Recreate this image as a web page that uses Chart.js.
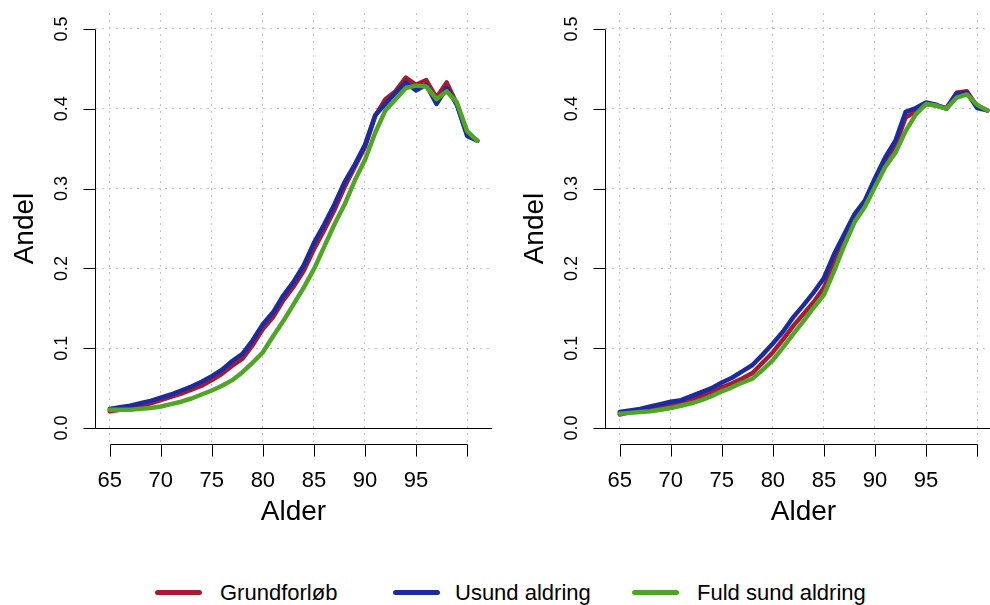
<!DOCTYPE html>
<html lang="da">
<head>
<meta charset="utf-8">
<title>Andel efter alder</title>
<script src="https://cdn.jsdelivr.net/npm/chart.js@4.4.1/dist/chart.umd.min.js"></script>
<style>
  html, body { margin: 0; padding: 0; background: #fff; overflow: hidden; }
  body { width: 990px; height: 605px; position: relative; font-family: "Liberation Sans", Arial, sans-serif; }
  canvas { position: absolute; top: 0; }
  #leftChart { left: 0; }
  #rightChart { left: 510px; }
  .swatch { position: absolute; top: 590px; width: 47px; height: 5px; border-radius: 2.5px; }
  .legend-text { position: absolute; top: 582px; font-size: 22px; line-height: 22px; color: #000; white-space: nowrap; }
</style>
</head>
<body>
<canvas id="leftChart" width="500" height="540"></canvas>
<canvas id="rightChart" width="500" height="540"></canvas>
<div id="legend"></div>

<script>
const AGES = [65, 66, 67, 68, 69, 70, 71, 72, 73, 74, 75, 76, 77, 78, 79, 80, 81, 82, 83,
              84, 85, 86, 87, 88, 89, 90, 91, 92, 93, 94, 95, 96, 97, 98, 99, 100, 101];

const X_TICKS = [65, 70, 75, 80, 85, 90, 95, 100];
const X_LABELS = [65, 70, 75, 80, 85, 90, 95];
const Y_TICKS = [0, 0.1, 0.2, 0.3, 0.4, 0.5];

const SERIES_NAMES = ['Grundforløb', 'Usund aldring', 'Fuld sund aldring'];
const SERIES_COLORS = ['#a61b2f', '#1c2ca0', '#4fa526'];

// left panel
const leftGrund = [0.021, 0.023, 0.025, 0.028, 0.031, 0.035, 0.039, 0.043, 0.048, 0.053, 0.060, 0.068, 0.078,
                   0.087, 0.104, 0.124, 0.139, 0.160, 0.177, 0.197, 0.224, 0.248, 0.273, 0.302, 0.327, 0.352,
                   0.391, 0.412, 0.422, 0.439, 0.430, 0.436, 0.414, 0.433, 0.406, 0.368, 0.360];
const leftUsund = [0.024, 0.026, 0.028, 0.031, 0.034, 0.038, 0.042, 0.047, 0.052, 0.058, 0.065, 0.073, 0.084,
                   0.093, 0.110, 0.130, 0.145, 0.166, 0.183, 0.204, 0.232, 0.255, 0.280, 0.308, 0.330, 0.355,
                   0.392, 0.406, 0.420, 0.433, 0.423, 0.430, 0.406, 0.426, 0.405, 0.366, 0.360];
const leftSund  = [0.023, 0.023, 0.023, 0.024, 0.025, 0.027, 0.030, 0.033, 0.037, 0.042, 0.047, 0.053, 0.060,
                   0.070, 0.082, 0.095, 0.115, 0.134, 0.155, 0.176, 0.199, 0.227, 0.255, 0.280, 0.310, 0.336,
                   0.370, 0.398, 0.412, 0.426, 0.429, 0.428, 0.412, 0.422, 0.408, 0.372, 0.360];

// right panel
const rightGrund = [0.017, 0.020, 0.022, 0.024, 0.026, 0.029, 0.032, 0.035, 0.040, 0.045, 0.051, 0.056, 0.062,
                    0.069, 0.082, 0.095, 0.111, 0.128, 0.143, 0.158, 0.176, 0.206, 0.234, 0.262, 0.279, 0.307,
                    0.333, 0.354, 0.389, 0.397, 0.406, 0.404, 0.401, 0.420, 0.422, 0.403, 0.398];
const rightUsund = [0.020, 0.022, 0.024, 0.027, 0.030, 0.033, 0.035, 0.040, 0.045, 0.050, 0.057, 0.063, 0.071,
                    0.079, 0.092, 0.106, 0.121, 0.139, 0.154, 0.170, 0.188, 0.218, 0.243, 0.268, 0.285, 0.313,
                    0.339, 0.360, 0.396, 0.401, 0.408, 0.405, 0.400, 0.419, 0.420, 0.401, 0.398];
const rightSund  = [0.018, 0.019, 0.020, 0.021, 0.023, 0.025, 0.028, 0.031, 0.035, 0.040, 0.046, 0.051, 0.057,
                    0.062, 0.073, 0.085, 0.101, 0.118, 0.134, 0.151, 0.167, 0.197, 0.229, 0.258, 0.277, 0.302,
                    0.327, 0.345, 0.372, 0.393, 0.406, 0.404, 0.400, 0.414, 0.418, 0.405, 0.398];

const FONT = '"Liberation Sans", Arial, sans-serif';

// R-style axes: detached x axis, rotated y labels, zero line
const baseAxes = {
    id: 'baseAxes',
    afterDraw(chart) {
        const { ctx, chartArea: area, scales: { x, y } } = chart;
        const left = Math.round(area.left) + 0.5;
        const bottom = Math.round(area.bottom) + 0.5;

        ctx.save();
        ctx.strokeStyle = '#000';
        ctx.fillStyle = '#000';
        ctx.lineWidth = 1;

        // zero line across the panel
        const y0 = Math.round(y.getPixelForValue(0)) + 0.5;
        ctx.beginPath();
        ctx.moveTo(area.left, y0);
        ctx.lineTo(area.right, y0);
        ctx.stroke();

        // y axis
        ctx.beginPath();
        ctx.moveTo(left, Math.round(y.getPixelForValue(Y_TICKS[0])) + 0.5);
        ctx.lineTo(left, Math.round(y.getPixelForValue(Y_TICKS[Y_TICKS.length - 1])) + 0.5);
        Y_TICKS.forEach(v => {
            const py = Math.round(y.getPixelForValue(v)) + 0.5;
            ctx.moveTo(left - 12, py);
            ctx.lineTo(left, py);
        });
        ctx.stroke();

        ctx.font = '18px ' + FONT;
        ctx.textAlign = 'center';
        ctx.textBaseline = 'alphabetic';
        Y_TICKS.forEach(v => {
            ctx.save();
            ctx.translate(area.left - 28, y.getPixelForValue(v));
            ctx.rotate(-Math.PI / 2);
            ctx.fillText(v.toFixed(1), 0, 0);
            ctx.restore();
        });

        // x axis below the plot region
        ctx.beginPath();
        ctx.moveTo(Math.round(x.getPixelForValue(X_TICKS[0])) + 0.5, bottom);
        ctx.lineTo(Math.round(x.getPixelForValue(X_TICKS[X_TICKS.length - 1])) + 0.5, bottom);
        X_TICKS.forEach(v => {
            const px = Math.round(x.getPixelForValue(v)) + 0.5;
            ctx.moveTo(px, bottom);
            ctx.lineTo(px, bottom + 12);
        });
        ctx.stroke();

        ctx.font = '22px ' + FONT;
        X_LABELS.forEach(v => {
            ctx.fillText(String(v), x.getPixelForValue(v), area.bottom + 43);
        });

        // axis titles
        ctx.font = '28px ' + FONT;
        ctx.fillText('Alder', (area.left + area.right) / 2, area.bottom + 76);
        ctx.save();
        ctx.translate(area.left - 62, (area.top + area.bottom) / 2);
        ctx.rotate(-Math.PI / 2);
        ctx.fillText('Andel', 0, 0);
        ctx.restore();

        ctx.restore();
    }
};

function makeDataset(label, values, color, order) {
    return {
        label: label,
        data: AGES.map((age, i) => ({ x: age, y: values[i] })),
        borderColor: color,
        backgroundColor: color,
        borderWidth: 4.5,
        borderCapStyle: 'round',
        borderJoinStyle: 'round',
        pointRadius: 0,
        tension: 0,
        fill: false,
        order: order
    };
}

function createPanel(canvasId, series) {
    const ctx = document.getElementById(canvasId).getContext('2d');
    return new Chart(ctx, {
        type: 'line',
        data: {
            datasets: [
                makeDataset(SERIES_NAMES[0], series[0], SERIES_COLORS[0], 3),
                makeDataset(SERIES_NAMES[1], series[1], SERIES_COLORS[1], 2),
                makeDataset(SERIES_NAMES[2], series[2], SERIES_COLORS[2], 1)
            ]
        },
        options: {
            responsive: false,
            animation: false,
            devicePixelRatio: 1,
            layout: { padding: { left: 0, right: 8, top: 13, bottom: 0 } },
            plugins: {
                legend: { display: false },
                tooltip: { enabled: false }
            },
            scales: {
                x: {
                    type: 'linear',
                    min: 63.56,
                    max: 102.44,
                    afterBuildTicks: scale => { scale.ticks = X_TICKS.map(v => ({ value: v })); },
                    afterFit: scale => { scale.height = 96; },
                    ticks: { display: false },
                    grid: { color: '#c4c4c4', lineWidth: 1, drawTicks: false },
                    border: { display: false, dash: [2, 5] }
                },
                y: {
                    type: 'linear',
                    min: -0.02,
                    max: 0.52,
                    afterBuildTicks: scale => { scale.ticks = Y_TICKS.map(v => ({ value: v })); },
                    afterFit: scale => { scale.width = 95; },
                    ticks: { display: false },
                    grid: { color: '#c4c4c4', lineWidth: 1, drawTicks: false },
                    border: { display: false, dash: [2, 5] }
                }
            }
        },
        plugins: [baseAxes]
    });
}

createPanel('leftChart', [leftGrund, leftUsund, leftSund]);
createPanel('rightChart', [rightGrund, rightUsund, rightSund]);

// legend along the bottom
const legend = document.getElementById('legend');
const swatchLefts = [155, 393, 632];
const textLefts = [220, 455, 697];
SERIES_NAMES.forEach((name, i) => {
    const swatch = document.createElement('div');
    swatch.className = 'swatch';
    swatch.style.left = swatchLefts[i] + 'px';
    swatch.style.background = SERIES_COLORS[i];
    legend.appendChild(swatch);

    const text = document.createElement('div');
    text.className = 'legend-text';
    text.style.left = textLefts[i] + 'px';
    text.textContent = name;
    legend.appendChild(text);
});
</script>
</body>
</html>
